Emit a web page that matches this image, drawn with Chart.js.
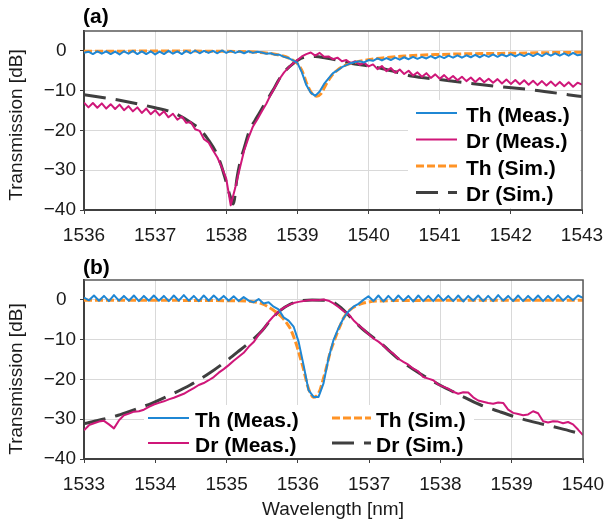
<!DOCTYPE html>
<html><head><meta charset="utf-8">
<script src="https://cdn.jsdelivr.net/npm/chart.js@4/dist/chart.umd.min.js"></script>
<style>
html,body{margin:0;padding:0;background:#fff;width:606px;height:522px;overflow:hidden}
#wa{position:absolute;left:0;top:0;width:606px;height:255px}
#wb{position:absolute;left:0;top:255px;width:606px;height:267px}
</style></head><body>
<div id="wa"><canvas id="ca" width="606" height="255"></canvas></div>
<div id="wb"><canvas id="cb" width="606" height="267"></canvas></div>
<script>
// ---------- Panel (a) ----------
const xTicksA = [1536,1537,1538,1539,1540,1541,1542,1543];
const yTicks = [0,-10,-20,-30,-40];
const yTickLabels = ['0\u2002','\u221210','\u221220','\u221230','\u221240'];
const legendLabels = ['Th (Meas.)','Dr (Meas.)','Th (Sim.)','Dr (Sim.)'];

const wlA = [
1536,1536.0625,1536.125,1536.1875,1536.25,1536.3125,1536.375,1536.4375,1536.5,1536.5625,1536.625,1536.6875,1536.75,1536.8125,1536.875,1536.9375,
1537,1537.0625,1537.125,1537.1875,1537.25,1537.3125,1537.375,1537.4375,1537.5,1537.5625,1537.625,1537.6875,1537.75,1537.8125,1537.875,1537.9375,
1538,1538.0625,1538.125,1538.1875,1538.25,1538.3125,1538.375,1538.4375,1538.5,1538.5625,1538.625,1538.6875,1538.75,1538.8125,1538.875,1538.9375,
1539,1539.0625,1539.125,1539.1875,1539.25,1539.3125,1539.375,1539.4375,1539.5,1539.5625,1539.625,1539.6875,1539.75,1539.8125,1539.875,1539.9375,
1540,1540.0625,1540.125,1540.1875,1540.25,1540.3125,1540.375,1540.4375,1540.5,1540.5625,1540.625,1540.6875,1540.75,1540.8125,1540.875,1540.9375,
1541,1541.0625,1541.125,1541.1875,1541.25,1541.3125,1541.375,1541.4375,1541.5,1541.5625,1541.625,1541.6875,1541.75,1541.8125,1541.875,1541.9375,
1542,1542.0625,1542.125,1542.1875,1542.25,1542.3125,1542.375,1542.4375,1542.5,1542.5625,1542.625,1542.6875,1542.75,1542.8125,1542.875,1542.9375,
1543];
const thMeasA = [
-0.5,-0.2,-0.8,-0.1,-0.7,-0.1,-0.8,-0.2,-0.9,-0.1,-0.7,0.0,-0.8,-0.1,-0.8,-0.1,
-0.9,-0.2,-0.8,0.0,-0.7,-0.1,-0.8,0.0,-0.6,0.1,-0.6,0.0,-0.5,0.0,-0.6,0.1,
-0.5,0.0,-0.5,-0.1,-0.6,-0.1,-0.5,-0.2,-0.4,-0.7,-0.6,-1.0,-1.0,-1.5,-1.8,-2.4,
-3.0,-5.4,-8.6,-10.5,-11.3,-10.2,-8.3,-6.9,-5.6,-4.9,-4.1,-3.6,-3.1,-2.8,-2.6,-2.9,
-2.3,-2.5,-1.9,-2.4,-1.8,-2.3,-1.7,-2.2,-1.6,-2.1,-1.5,-2.0,-1.5,-1.9,-1.3,-1.9,
-1.3,-1.8,-1.2,-1.7,-1.1,-1.7,-1.1,-1.6,-1.0,-1.6,-1.0,-1.5,-0.9,-1.5,-0.9,-1.4,
-0.8,-1.4,-0.8,-1.3,-0.7,-1.3,-0.7,-1.3,-0.6,-1.2,-0.6,-1.2,-0.6,-1.2,-0.5,-1.1,
-0.9];
const drMeasA = [
-13.0,-14.2,-13.1,-14.3,-13.2,-14.5,-13.4,-14.6,-13.5,-14.9,-13.9,-15.2,-14.2,-15.6,-14.5,-15.9,
-14.9,-16.2,-15.2,-16.7,-15.8,-17.3,-16.5,-18.1,-17.9,-19.7,-20.1,-22.2,-23.0,-25.0,-26.8,-29.3,
-32.2,-38.8,-34.5,-29.7,-25.1,-21.8,-19.0,-17.2,-15.2,-13.3,-11.0,-9.0,-7.0,-5.4,-4.2,-3.2,
-2.3,-1.4,-0.8,-0.4,-1.2,-0.5,-1.5,-1.4,-2.1,-1.7,-2.6,-2.3,-3.1,-2.6,-3.5,-3.0,
-3.9,-3.4,-4.6,-3.8,-5.1,-4.3,-5.5,-4.7,-5.8,-5.0,-6.2,-5.4,-6.5,-5.6,-6.8,-5.9,
-7.0,-6.1,-7.2,-6.3,-7.4,-6.5,-7.6,-6.7,-7.8,-6.8,-7.9,-7.0,-8.0,-7.1,-8.2,-7.2,
-8.3,-7.3,-8.4,-7.4,-8.5,-7.5,-8.6,-7.6,-8.7,-7.7,-8.8,-7.8,-8.9,-7.9,-9.0,-8.0,
-8.5];
const thSimAx = [1536,1537,1538,1538.4,1538.6,1538.8,1538.9,1539.0,1539.07,1539.13,1539.2,1539.27,1539.33,1539.4,1539.47,1539.55,1539.65,1539.8,1540.0,1540.5,1541,1541.5,1542,1542.5,1543];
const thSimAy = [-0.1,-0.05,-0.1,-0.3,-0.6,-1.3,-2.0,-3.2,-5.2,-8.2,-10.6,-11.4,-10.8,-8.5,-6.5,-5.0,-3.8,-2.9,-2.2,-1.3,-0.9,-0.7,-0.6,-0.45,-0.35];
const drSimAx = [1536,1536.5,1537,1537.25,1537.5,1537.64,1537.75,1537.85,1537.92,1537.98,1538.05,1538.1,1538.15,1538.2,1538.25,1538.33,1538.4,1538.47,1538.55,1538.66,1538.73,1538.8,1538.9,1539.0,1539.1,1539.25,1539.4,1539.6,1539.75,1540.0,1540.2,1540.45,1540.6,1541,1541.4,1541.8,1542.3,1542.8,1543];
const drSimAy = [-11.0,-12.4,-14.3,-15.5,-18.0,-19.9,-22.4,-25.3,-28.3,-31.8,-36.3,-38.5,-32.0,-27.5,-24.5,-19.8,-17.6,-15.5,-13.0,-9.8,-7.5,-5.6,-3.8,-2.4,-1.6,-1.4,-1.8,-2.5,-3.1,-3.8,-4.5,-5.6,-6.3,-7.2,-8.1,-8.9,-9.8,-11.0,-11.5];

// ---------- Panel (b) ----------
const xTicksB = [1533,1534,1535,1536,1537,1538,1539,1540];
const wlB = [
1533.00,1533.07,1533.14,1533.21,1533.28,1533.35,1533.42,1533.49,1533.56,1533.63,1533.70,1533.77,1533.84,1533.91,1533.98,
1534.05,1534.12,1534.19,1534.26,1534.33,1534.40,1534.47,1534.54,1534.61,1534.68,1534.75,1534.82,1534.89,1534.96,
1535.03,1535.10,1535.17,1535.24,1535.31,1535.38,1535.45,1535.52,1535.59,1535.66,1535.73,1535.80,1535.87,1535.94,
1536.01,1536.08,1536.15,1536.22,1536.29,1536.36,1536.43,1536.50,1536.57,1536.64,1536.71,1536.78,1536.85,1536.92,1536.99,
1537.06,1537.13,1537.20,1537.27,1537.34,1537.41,1537.48,1537.55,1537.62,1537.69,1537.76,1537.83,1537.90,1537.97,
1538.04,1538.11,1538.18,1538.25,1538.32,1538.39,1538.46,1538.53,1538.60,1538.67,1538.74,1538.81,1538.88,1538.95,
1539.02,1539.09,1539.16,1539.23,1539.30,1539.37,1539.44,1539.51,1539.58,1539.65,1539.72,1539.79,1539.86,1539.93,1540.00];
const thMeasB = [
0.6,-0.1,1.1,-0.2,1.0,-0.3,1.2,-0.2,1.0,-0.2,1.1,-0.3,1.0,-0.2,1.1,-0.2,1.0,-0.3,1.1,-0.2,1.2,-0.2,1.0,-0.3,1.1,-0.2,1.1,-0.1,1.0,-0.2,0.9,-0.3,0.7,-0.2,
-0.6,0.2,-0.9,-0.6,-1.7,-2.4,-4.4,-5.2,-6.7,-10.5,-16.4,-22.7,-24.4,-24.4,-21.0,-14.7,-10.1,-7.1,-4.6,-2.9,-1.7,-1.0,0.0,
0.9,-0.3,1.1,-0.4,1.0,-0.3,1.1,-0.2,1.0,-0.4,1.1,-0.3,1.0,-0.3,1.2,-0.2,1.0,-0.3,1.1,-0.4,1.0,-0.2,1.1,-0.3,1.0,-0.3,1.2,-0.2,1.0,-0.3,1.1,-0.3,1.0,-0.2,1.1,-0.3,1.0,-0.2,1.2,-0.2,1.0,-0.1,1.1,0.5];
const drMeasB = [
-32.8,-31.5,-31.0,-30.6,-30.4,-31.3,-32.3,-30.3,-29.0,-28.6,-28.1,-28.0,-27.6,-26.9,-26.3,
-25.9,-25.5,-25.0,-24.6,-24.1,-23.6,-22.9,-22.2,-21.4,-20.9,-20.2,-19.4,-18.3,-17.4,
-16.4,-15.3,-14.3,-13.3,-11.8,-10.6,-8.8,-7.3,-5.5,-4.1,-2.9,-2.0,-1.3,-0.8,
-0.5,-0.3,-0.1,0.0,-0.1,0.1,-0.2,-0.9,-1.8,-2.8,-3.6,-5.1,-6.3,-7.4,
-8.6,-9.7,-10.5,-11.5,-12.7,-13.5,-14.8,-15.6,-16.3,-17.3,-18.0,-19.4,-19.8,-20.2,-21.3,
-21.8,-22.3,-23.1,-23.6,-23.2,-23.3,-24.5,-25.3,-25.6,-25.9,-26.1,-25.8,-25.9,-27.6,
-28.4,-28.7,-29.0,-28.8,-28.0,-28.5,-30.5,-30.8,-30.5,-30.6,-31.0,-30.7,-31.3,-32.6,-34.0];
const thSimBx = [1533,1534,1535,1535.3,1535.5,1535.58,1535.65,1535.72,1535.79,1535.85,1535.89,1535.94,1535.99,1536.03,1536.07,1536.1,1536.14,1536.18,1536.22,1536.26,1536.31,1536.35,1536.38,1536.42,1536.45,1536.5,1536.55,1536.6,1536.64,1536.68,1536.73,1536.82,1536.92,1537.1,1537.5,1538.5,1540];
const thSimBy = [-0.1,-0.1,-0.2,-0.3,-1.0,-1.7,-2.5,-3.4,-4.6,-6.0,-7.1,-9.2,-11.8,-14.3,-16.8,-19.0,-21.8,-23.6,-24.5,-24.2,-22.7,-20.3,-18.4,-15.6,-13.4,-10.8,-8.4,-6.2,-4.6,-3.5,-2.5,-1.5,-0.8,-0.3,-0.15,-0.1,-0.1];
const drSimBx = [1533,1533.22,1533.48,1533.69,1533.95,1534.21,1534.49,1534.72,1534.95,1535.19,1535.38,1535.5,1535.62,1535.75,1535.89,1536.03,1536.2,1536.4,1536.5,1536.6,1536.73,1536.87,1537.01,1537.15,1537.43,1537.71,1537.99,1538.27,1538.55,1538.83,1539.12,1539.4,1539.68,1540];
const drSimBy = [-31.1,-30.2,-29.0,-27.7,-26.0,-23.9,-21.4,-18.9,-16.0,-12.6,-9.8,-7.7,-5.0,-2.7,-1.1,-0.3,0.0,-0.1,-0.6,-1.9,-4.2,-6.7,-8.8,-10.7,-15.1,-18.5,-21.4,-23.9,-26.3,-28.1,-29.8,-31.1,-32.3,-33.8];

// ---------- styling ----------
const FONT = "'Liberation Sans', Arial, Helvetica, sans-serif";
const BLUE = '#1f87d4', PINK = '#cf1779', ORANGE = '#ff9326', DARK = '#3f3f3f';
const TXT = '#1a1a1a';
const SIM_DR_DASH = [22,10], SIM_TH_DASH = [8,3];
Chart.defaults.font.family = FONT;
Chart.defaults.font.size = 19;
Chart.defaults.color = TXT;

function toXY(xs, ys){ const n=Math.min(xs.length, ys.length); const out=[]; for(let i=0;i<n;i++) out.push({x:xs[i], y:ys[i]}); return out; }

function datasets(thM, drM, thS, drS){
  return [
    {label:legendLabels[0], data:thM, borderColor:BLUE, borderWidth:2, tension:0, borderJoinStyle:'round'},
    {label:legendLabels[1], data:drM, borderColor:PINK, borderWidth:2, tension:0, borderJoinStyle:'round'},
    {label:legendLabels[2], data:thS, borderColor:ORANGE, borderWidth:3, borderDash:SIM_TH_DASH, cubicInterpolationMode:'monotone'},
    {label:legendLabels[3], data:drS, borderColor:DARK, borderWidth:3, borderDash:SIM_DR_DASH, cubicInterpolationMode:'monotone'}
  ];
}

function drawSample(c, idx, x0, x1, y){
  c.save();
  c.lineCap='butt';
  const col=[BLUE,PINK,ORANGE,DARK][idx], w=[2,2,3,3][idx];
  c.strokeStyle=col; c.lineWidth=w;
  if(idx===2) c.setLineDash(SIM_TH_DASH);
  if(idx===3) c.setLineDash(SIM_DR_DASH);
  c.beginPath(); c.moveTo(x0,y); c.lineTo(x1,y); c.stroke();
  c.restore();
}

function panelPlugin(cfg){
  return {
    id:'panel',
    beforeDatasetsDraw(chart){
      const c=chart.ctx, b=cfg.legendBox;
      c.save(); c.fillStyle='#fff'; c.fillRect(b[0],b[1],b[2],b[3]); c.restore();
    },
    afterDraw(chart){
      const c=chart.ctx, a=chart.chartArea;
      c.save();
      c.strokeStyle='#595959'; c.lineWidth=1.5;
      c.beginPath(); c.moveTo(a.left,a.top); c.lineTo(a.right,a.top); c.lineTo(a.right,a.bottom); c.stroke();
      c.fillStyle='#000'; c.textAlign='left'; c.textBaseline='middle';
      c.font='bold 21px '+FONT;
      c.fillText(cfg.label, 83, cfg.labelY);
      c.fillStyle=TXT; c.font='19px '+FONT;
      c.save(); c.translate(17, cfg.yTitleY); c.rotate(-Math.PI/2); c.textAlign='center'; c.fillText('Transmission [dB]',0,0); c.restore();
      if(cfg.xTitle){ c.textAlign='center'; c.fillText(cfg.xTitle, cfg.xTitleX, cfg.xTitleY); }
      c.font='bold 21px '+FONT; c.fillStyle='#000'; c.textAlign='left';
      cfg.legend.forEach(it=>{
        drawSample(c, it.i, it.x0, it.x1, it.y-2);
        c.fillText(legendLabels[it.i], it.tx, it.y+1);
      });
      c.restore();
    }
  };
}

function makeChart(id, o){
  return new Chart(document.getElementById(id), {
    type:'line',
    data:{datasets:o.datasets},
    options:{
      responsive:false, animation:false, devicePixelRatio:1,
      layout:{padding:{top:o.padTop, right:o.padRight, left:0, bottom:0}},
      plugins:{legend:{display:false}, tooltip:{enabled:false}},
      elements:{point:{radius:0, hoverRadius:0}},
      scales:{
        x:{type:'linear', min:o.xMin, max:o.xMax,
           afterBuildTicks:s=>{ s.ticks=o.xTicks.map(v=>({value:v})); },
           afterFit:s=>{ s.height=o.xHeight; s.paddingLeft=0; s.paddingRight=0; },
           ticks:{padding:10, autoSkip:false, maxRotation:0, color:TXT, font:{size:19}, callback:v=>String(v)},
           grid:{color:'#d9d9d9', lineWidth:1, drawTicks:true, tickLength:4, tickColor:'#404040'},
           border:{color:'#404040', width:2}
        },
        y:{type:'linear', min:-40, max:5,
           afterBuildTicks:s=>{ s.ticks=yTicks.map(v=>({value:v})); },
           afterFit:s=>{ s.width=84; s.paddingTop=0; s.paddingBottom=0; },
           ticks:{padding:4, color:TXT, font:{size:19}, callback:v=>{ const k=yTicks.indexOf(v); return k>=0?yTickLabels[k]:''; }},
           grid:{color:'#d9d9d9', lineWidth:1, drawTicks:true, tickLength:4, tickColor:'#404040'},
           border:{color:'#404040', width:2}
        }
      }
    },
    plugins:[panelPlugin(o.panel)]
  });
}

makeChart('ca', {
  datasets: datasets(toXY(wlA,thMeasA), toXY(wlA,drMeasA), toXY(thSimAx,thSimAy), toXY(drSimAx,drSimAy)),
  xMin:1536, xMax:1543, xTicks:xTicksA, padTop:31, padRight:24, xHeight:45,
  panel:{label:'(a)', labelY:17, yTitleY:125, legendBox:[408,100,172,108],
    legend:[
      {i:0, x0:416, x1:457, y:115, tx:466},
      {i:1, x0:416, x1:457, y:141.5, tx:466},
      {i:2, x0:416, x1:457, y:168, tx:466},
      {i:3, x0:416, x1:457, y:194.5, tx:466}
    ]}
});

makeChart('cb', {
  datasets: datasets(toXY(wlB,thMeasB), toXY(wlB,drMeasB), toXY(thSimBx,thSimBy), toXY(drSimBx,drSimBy)),
  xMin:1533, xMax:1540, xTicks:xTicksB, padTop:25, padRight:23, xHeight:63,
  panel:{label:'(b)', labelY:13, yTitleY:124, legendBox:[144,150,330,53],
    xTitle:'Wavelength [nm]', xTitleX:333, xTitleY:255,
    legend:[
      {i:0, x0:148, x1:189, y:165, tx:195},
      {i:1, x0:148, x1:189, y:190, tx:195},
      {i:2, x0:332, x1:371, y:165, tx:376},
      {i:3, x0:332, x1:371, y:190, tx:376}
    ]}
});
</script>
</body></html>
